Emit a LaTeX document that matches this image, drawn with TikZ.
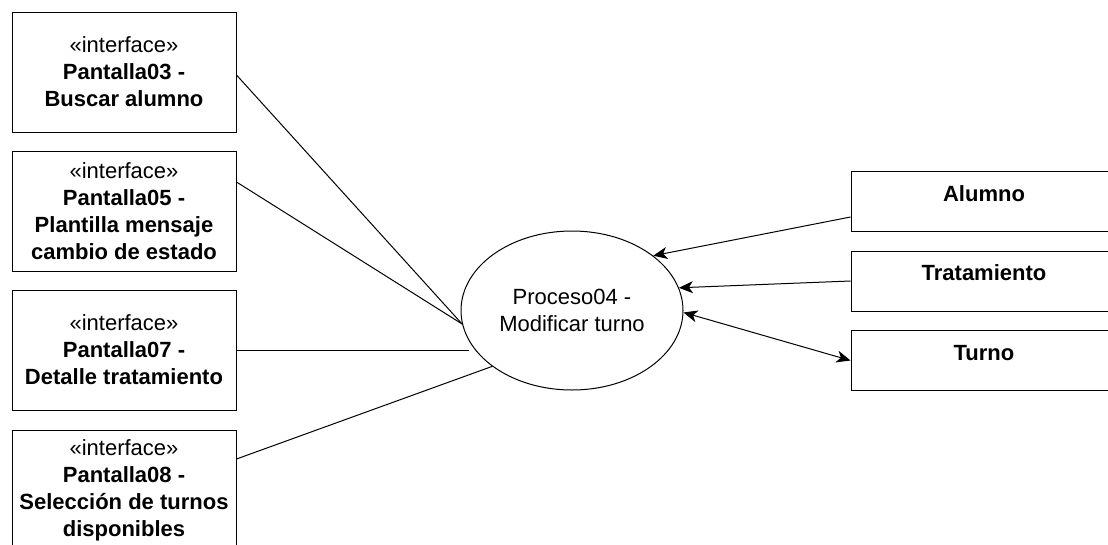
\documentclass[tikz,border=0pt]{standalone}
\usepackage{fontspec}
\setmainfont{Liberation Sans}
\usetikzlibrary{arrows.meta,shapes.geometric}

\tikzset{
  ui/.style={draw=black, line width=1pt, fill=white, minimum width=224pt, minimum height=120pt,
    align=center, inner sep=0pt, font=\fontsize{22}{27}\selectfont},
  entity/.style={draw=black, line width=1pt, fill=white, minimum width=266pt, minimum height=60pt, inner sep=0pt},
  entitytext/.style={anchor=base, inner sep=0pt, font=\fontsize{22}{27}\selectfont\bfseries},
  process/.style={draw=black, line width=1pt, fill=white, ellipse, minimum width=222pt, minimum height=159pt,
    align=center, inner sep=0pt, font=\fontsize{22}{27}\selectfont},
  link/.style={draw=black, line width=1pt},
  tip/.tip={Stealth[length=14pt, width=12pt, inset=4pt]},
  flow/.style={link, -tip},
  both/.style={link, tip-tip}
}

\begin{document}
\begin{tikzpicture}[x=1pt, y=-1pt]
  \clip (0,0) rectangle (1108,544);
  \fill[white] (0,0) rectangle (1108,544);

  % interface screens
  \node[ui] (p03) at (124,72) {«interface»\\\textbf{Pantalla03 -}\\\textbf{Buscar alumno}};
  \node[ui] (p05) at (124,211) {«interface»\\\textbf{Pantalla05 -}\\\textbf{Plantilla mensaje}\\\textbf{cambio de estado}};
  \node[ui] (p07) at (124,350) {«interface»\\\textbf{Pantalla07 -}\\\textbf{Detalle tratamiento}};
  \node[ui] (p08) at (124,490) {«interface»\\\textbf{Pantalla08 -}\\\textbf{Selección de turnos}\\\textbf{disponibles}};

  % central process
  \node[process] (proc) at (572,310.5) {Proceso04 -\\Modificar turno};

  % data entities
  \node[entity] (alu) at (984,201.5) {};
  \node[entity] (tra) at (984,281) {};
  \node[entity] (tur) at (984,360.5) {};
  \node[entitytext] (alut) at ([yshift=-30pt]alu.north) {Alumno};
  \node[entitytext] (trat) at ([yshift=-30pt]tra.north) {Tratamiento};
  \node[entitytext] (turt) at ([yshift=-30pt]tur.north) {Turno};

  % screen links
  \draw[link] ([yshift=-3pt]p03.east) -- (proc.187);
  \draw[link] ([yshift=29pt]p05.east) -- (proc.187);
  \draw[link] (p07.east) -- ([xshift=8pt]proc.west |- p07.east);
  \draw[link] ([yshift=31pt]p08.east) -- (proc.215.2);

  % data flows
  \draw[flow] ([yshift=-15.5pt]alu.west) -- (proc.34.9);
  \draw[flow] (tra.west) -- (proc.12.4);
  \draw[both] (proc.359) -- (tur.west);
\end{tikzpicture}
\end{document}
